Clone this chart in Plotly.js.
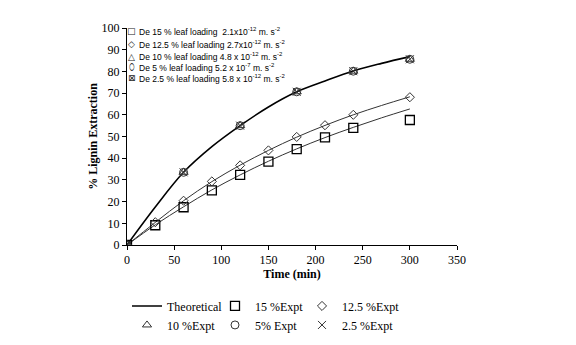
<!DOCTYPE html>
<html><head><meta charset="utf-8">
<script src="https://cdn.plot.ly/plotly-3.0.1.min.js"></script>
<style>html,body{margin:0;padding:0;background:#fff}#c{width:576px;height:345px}</style>
</head><body><div id="c"></div>
<script>
// model time grid (min)
var timeModel = [0, 30, 60, 90, 120, 150, 180, 210, 240, 270, 300];
// theoretical curves
var theoHigh = [0, 17.5, 33.5, 45.3, 55, 63.6, 70.6, 75.6, 80.2, 83.7, 86.8];
var theo15 = [0, 9.3, 17.6, 25.4, 32.3, 38.6, 44.3, 49.5, 54.2, 58.6, 62.7];
var theo125 = [0, 10.4, 20.4, 29.2, 36.8, 43.6, 49.7, 55.1, 60.0, 64.3, 68.3];
// experimental data
var timeExp = [0, 30, 60, 90, 120, 150, 180, 210, 240, 300];
var exp15 = [0, 9.1, 17.4, 25.2, 32.3, 38.4, 44.2, 49.6, 54, 57.6];
var exp125 = [0, 10.5, 20.4, 29.3, 36.7, 43.6, 49.8, 55.2, 60, 68.1];
var timeExpLow = [0, 60, 120, 180, 240, 300];
var exp10 = [0, 33.5, 55, 70.6, 80.1, 85.6];
var exp5 = [0, 33.5, 55, 70.6, 80.1, 85.6];
var exp25 = [0, 33.5, 55, 70.6, 80.1, 85.6];
// inset labels
var insetSymbols = ['\u25A1', '\u25C7', '\u25B3', '\u2B2F', '\u22A0'];
var insetLabels = [
  'De 15 % leaf loading  2.1x10<sup>-12</sup> m. s<sup>-2</sup>',
  'De 12.5 % leaf loading 2.7x10<sup>-12</sup> m. s<sup>-2</sup>',
  'De 10 % leaf loading 4.8 x 10<sup>-12</sup> m. s<sup>-2</sup>',
  'De 5 % leaf loading 5.2 x 10<sup>-7</sup> m. s<sup>-2</sup>',
  'De 2.5 % leaf loading 5.8 x 10<sup>-12</sup> m. s<sup>-2</sup>'
];

var lines = [
  {x: timeModel, y: theo15, mode: 'lines', showlegend: false, line: {color: '#333', width: 1, shape: 'spline'}},
  {x: timeModel, y: theo125, mode: 'lines', showlegend: false, line: {color: '#333', width: 1, shape: 'spline'}},
  {x: timeModel, y: theoHigh, mode: 'lines', name: 'Theoretical', legend: 'legend', line: {color: '#000', width: 1.6, shape: 'spline'}}
];
var marks = [
  {x: timeExp, y: exp15, mode: 'markers', name: '15 %Expt', legend: 'legend2', marker: {symbol: 'square-open', size: 9, color: '#000', line: {width: 1.3}}},
  {x: timeExp, y: exp125, mode: 'markers', name: '12.5 %Expt', legend: 'legend3', marker: {symbol: 'diamond-open', size: 7, color: '#333', line: {width: 1}}},
  {x: timeExpLow, y: exp10, mode: 'markers', name: '10 %Expt', legend: 'legend', marker: {symbol: 'triangle-up-open', size: 8, color: '#333', line: {width: 1}}},
  {x: timeExpLow, y: exp5, mode: 'markers', name: '5% Expt', legend: 'legend2', marker: {symbol: 'circle-open', size: 8, color: '#333', line: {width: 1}}},
  {x: timeExpLow, y: exp25, mode: 'markers', name: '2.5 %Expt', legend: 'legend3', marker: {symbol: 'x-thin-open', size: 8, color: '#333', line: {width: 1}}}
];
var data = lines.concat(marks);

var rowY = [31.5, 44.3, 56.7, 67.3, 78.3];
var annotations = [];
for (var i = 0; i < insetLabels.length; i++) {
  annotations.push({xref: 'paper', yref: 'paper', x: (131.5 - 127) / 330, y: (245 - rowY[i]) / 217,
    xanchor: 'center', yanchor: 'middle', showarrow: false, text: insetSymbols[i],
    font: {family: 'DejaVu Sans', size: 9, color: '#222'}});
  annotations.push({xref: 'paper', yref: 'paper', x: (137 - 127) / 330, y: (245 - rowY[i]) / 217,
    xanchor: 'left', yanchor: 'middle', showarrow: false, text: insetLabels[i],
    font: {family: 'Liberation Sans', size: 8.5, color: '#000'}});
}

function legendAt(px) {
  return {orientation: 'v', x: (px - 127) / 330, xanchor: 'left', y: -0.214, yanchor: 'top',
    font: {family: 'Liberation Serif', size: 12, color: '#000'}, traceorder: 'normal',
    bgcolor: 'rgba(0,0,0,0)', borderwidth: 0, tracegroupgap: 0, itemwidth: 30};
}

var layout = {
  width: 576, height: 345,
  margin: {l: 127, r: 119, t: 28, b: 100, autoexpand: false},
  paper_bgcolor: '#fff', plot_bgcolor: '#fff',
  font: {family: 'Liberation Serif', color: '#000', size: 12},
  showlegend: true,
  legend: legendAt(127),
  legend2: legendAt(215),
  legend3: legendAt(302),
  xaxis: {range: [0, 350], dtick: 50, tick0: 0, showgrid: false, zeroline: false,
    showline: true, linecolor: '#000', linewidth: 1, ticks: 'outside', ticklen: 4, tickcolor: '#000',
    tickfont: {family: 'Liberation Serif', size: 12}, automargin: false,
    title: {text: '<b>Time (min)</b>', font: {family: 'Liberation Serif', size: 12}, standoff: 2}},
  yaxis: {range: [0, 100], dtick: 10, tick0: 0, showgrid: false, zeroline: false,
    showline: true, linecolor: '#000', linewidth: 1, ticks: 'outside', ticklen: 4, tickcolor: '#000',
    tickfont: {family: 'Liberation Serif', size: 12}, automargin: false,
    title: {text: '<b>% Lignin Extraction</b>', font: {family: 'Liberation Serif', size: 12}, standoff: 1}},
  annotations: annotations
};
Plotly.newPlot('c', data, layout, {displayModeBar: false, staticPlot: true});
</script></body></html>
